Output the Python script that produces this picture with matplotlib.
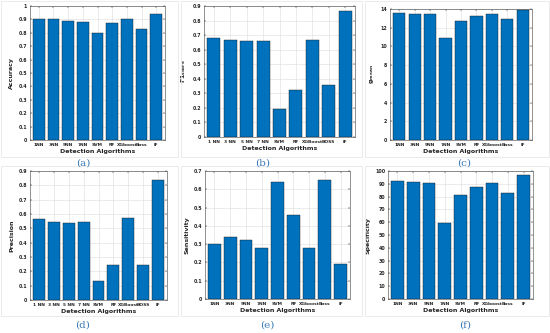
import numpy as np
import matplotlib
matplotlib.use("Agg")
import matplotlib.pyplot as plt
from matplotlib.patches import Rectangle

# ------------------------------------------------------------
#  Datos
# ------------------------------------------------------------
algs_a = ["1NN", "3NN", "5NN", "7NN", "SVM", "RF", "XGboost", "Boss", "IF"]
algs_b = ["1 NN", "3 NN", "5 NN", "7 NN", "SVM", "RF", "XGBoost", "BOSS", "IF"]

accuracy = [0.90, 0.90, 0.89, 0.88, 0.80, 0.87, 0.90, 0.83, 0.94]
f1_score = [0.68, 0.665, 0.66, 0.658, 0.195, 0.32, 0.665, 0.36, 0.865]
g_mean = [13.6, 13.5, 13.45, 10.9, 12.7, 13.25, 13.5, 12.9, 13.9]
precision = [0.563, 0.547, 0.54, 0.543, 0.13, 0.245, 0.575, 0.243, 0.835]
sensitivity = [0.30, 0.34, 0.32, 0.28, 0.64, 0.46, 0.28, 0.65, 0.19]
specificity = [92, 91.5, 90.5, 59, 81, 87.5, 91, 83, 97]

W, H = 550, 333
fig = plt.figure(figsize=(W / 100, H / 100), dpi=100)
fig.patch.set_facecolor("white")


def rect(l, t, r, b):
    return [l / W, 1 - b / H, (r - l) / W, (b - t) / H]


# marcos grises de cada panel
for (l, t, r, b) in [(1, 1, 178, 157), (181, 1, 362, 157), (365, 1, 549, 157),
                     (1, 166, 178, 316), (181, 166, 362, 316), (365, 166, 549, 316)]:
    fig.patches.append(Rectangle((l / W, 1 - b / H), (r - l) / W, (b - t) / H,
                                 transform=fig.transFigure, fill=False,
                                 edgecolor="#e8e8e8", linewidth=0.6))

paneles = [
    # (rect, etiquetas, valores, ymax, yticks, ylabel, letra, pos letra)
    (rect(30, 6, 165, 140), algs_a, accuracy, 1.0, np.arange(0, 1.01, 0.1), "Accuracy", "(a)", (83, 163)),
    (rect(204, 6, 355, 137), algs_b, f1_score, 0.9, np.arange(0, 0.91, 0.1), r"F1$_{\mathregular{score}}$", "(b)", (263, 163)),
    (rect(390, 9, 532, 140), algs_a, g_mean, 14, np.arange(0, 15, 2), r"g$_{\mathregular{mean}}$", "(c)", (464, 163)),
    (rect(30, 171, 167, 300), algs_b, precision, 0.9, np.arange(0, 0.91, 0.1), "Precision", "(d)", (83, 325)),
    (rect(205, 171, 350, 299), algs_a, sensitivity, 0.7, np.arange(0, 0.71, 0.1), "Sensitivity", "(e)", (267, 325)),
    (rect(388, 171, 533, 299), algs_a, specificity, 100, np.arange(0, 101, 10), "Specificity", "(f)", (465, 325)),
]

x = np.arange(1, 10)
for r, labels, vals, ymax, yt, ylab, letra, (lx, ly) in paneles:
    ax = fig.add_axes(r)
    ax.bar(x, vals, width=0.8, color="#0072BD", edgecolor="#1a1a1a", linewidth=0.3, zorder=3)
    ax.set_xlim(0.4, 9.6)
    ax.set_ylim(0, ymax)
    ax.set_xticks(x)
    ax.set_xticklabels(labels, fontsize=3.2, fontweight="bold", color="#262626")
    ax.set_yticks(yt)
    ax.set_yticklabels([f"{v:g}" for v in yt], fontsize=3.4, fontweight="bold", color="#262626")
    ax.grid(True, color="#dcdcdc", linewidth=0.4, zorder=0)
    ax.tick_params(direction="in", length=1.5, width=0.3, pad=2, top=True, right=True)
    for s in ax.spines.values():
        s.set_linewidth(0.4)
        s.set_color("#404040")
    ax.set_xlabel("Detection Algorithms", fontsize=4.5, fontweight="bold", color="#262626", labelpad=1.5)
    ax.set_ylabel(ylab, fontsize=4.5, fontweight="bold", color="#262626", labelpad=3)
    fig.text(lx / W, 1 - ly / H, letra, ha="center", va="center", fontsize=7.5,
             family="DejaVu Serif", color="#3a7ab8")

fig.savefig("out.png", dpi=100)
